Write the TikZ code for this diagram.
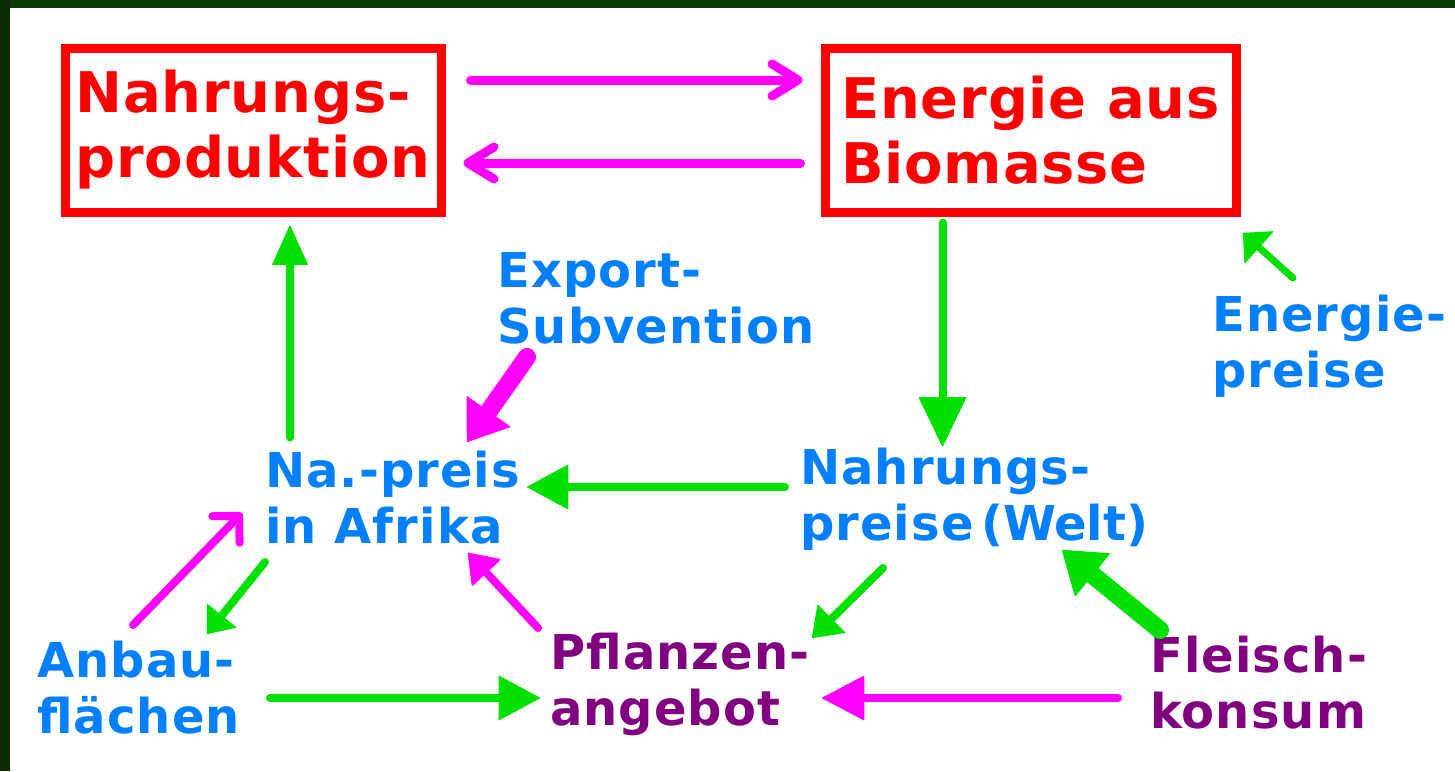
\documentclass[tikz,border=0pt]{standalone}
\usepackage{fontspec}
\setmainfont{DejaVu Sans}
\usetikzlibrary{arrows.meta,positioning,calc}

\definecolor{rahmen}{HTML}{0B3A02}
\definecolor{rahmenl}{HTML}{0D2A03}
\definecolor{blau}{HTML}{0080FF}
\definecolor{lila}{HTML}{800080}
\definecolor{gruen}{HTML}{00E000}
\definecolor{magen}{HTML}{FF00FF}

\newcommand\boxfont{\bfseries\fontsize{56}{65}\selectfont\addfontfeature{LetterSpace=1.5}}
\newcommand\lblfont{\bfseries\fontsize{48}{56}\selectfont\addfontfeature{LetterSpace=2.2}}

\tikzset{
  box/.style={draw=red, line width=9pt, text=red, align=left,
    minimum width=376pt, minimum height=164pt, font=\boxfont},
  lbl/.style={anchor=base west, align=left, inner sep=0pt, font=\lblfont},
  garrow/.style={gruen, line width=8pt, line cap=round,
    -{Triangle[length=42pt,width=45pt,line width=1pt,round]}},
  marrow/.style={magen, line width=9pt, line cap=round,
    -{Straight Barb[length=26pt,width=32pt,round]}},
}

\begin{document}
\begin{tikzpicture}[x=1pt,y=-1pt]
\useasboundingbox (0,0) rectangle (1455,771);
\fill[rahmen] (0,0) rectangle (1455,771);
\fill[rahmenl] (0,0) rectangle (10,771);
\fill[white] (10,8) rectangle (1455,771);

% Kästen
\node[box] (prod) at (253,130) {Nahrungs-\\produktion};
\node[box, minimum width=411pt] (bio) at (1030.5,130) {Energie aus\\Biomasse};

% Beschriftungen (Anker: Grundlinie der letzten Zeile)
\node[lbl, text=blau] (export) at (497,343) {Export-\\Subvention};
\node[lbl, text=blau] (epreise) at (1212,387) {Energie-\\preise};
\node[lbl, text=blau] (afrika) at (265,543) {Na.-preis\\in Afrika};
\node[lbl, text=blau] (welt) at (800,540) {Nahrungs-\\preise};
\node[lbl, text=blau, font=\bfseries\fontsize{48}{56}\selectfont] (weltx) at (981,540) {(Welt)};
\node[lbl, text=blau] (anbau) at (37,733) {Anbau-\\flächen};
\node[lbl, text=lila] (pflanz) at (550,725) {Pflanzen-\\angebot};
\node[lbl, text=lila] (fleisch) at (1150,728) {Fleisch-\\konsum};

% Pfeile
\draw[marrow] ($(prod.east)+(25,-50)$) -- ($(bio.west)+(-18,-50)$);
\draw[marrow] ($(bio.west)+(-20,33)$) -- ($(prod.east)+(18,33)$);
\draw[garrow, -{Triangle[length=50pt,width=48pt,line width=1pt,round]}]
  ($(bio.south)+(-88,6)$) -- ($(bio.south)+(-88,230)$);
\draw[garrow, -{Triangle[length=40pt,width=36pt,line width=1pt,round]}]
  ($(prod.south)+(37,221)$) -- ($(prod.south)+(37,9)$);
\draw[magen, line width=18pt, line cap=round,
  -{Triangle[length=38pt,width=54pt,line width=1pt,round]}]
  (527,357) coordinate (exp0) -- (467,442) coordinate (exp1);
\draw[garrow, line width=7pt, -{Triangle[length=22pt,width=44pt,line width=1pt,round]}]
  (1293,278) coordinate (ep0) -- (1243,233) coordinate (ep1);
\draw[garrow] (785,487) coordinate (w0) -- (527,487) coordinate (w1);
\draw[marrow, line width=8pt, -{Straight Barb[length=19pt,width=38pt,round]}]
  (133,625) coordinate (an0) -- (242,513) coordinate (an1);
\draw[garrow, -{Triangle[length=24pt,width=38pt,line width=1pt,round]}]
  (265,562) coordinate (af0) -- (207,634) coordinate (af1);
\draw[garrow] (270,698) coordinate (an2) -- (540,698) coordinate (pf0);
\draw[magen, line width=8pt, line cap=round,
  -{Triangle[length=28pt,width=40pt,line width=2pt,round]}]
  (538,628) coordinate (pf1) -- (468,553) coordinate (af2);
\draw[garrow, -{Triangle[length=28pt,width=40pt,line width=1pt,round]}]
  (883,568) coordinate (w2) -- (812,638) coordinate (pf2);
\draw[magen, line width=8pt, line cap=round,
  -{Triangle[length=43pt,width=45pt,line width=1pt,round]}]
  (1118,698) coordinate (fl0) -- (822,698) coordinate (pf3);
\draw[gruen, line width=18pt, line cap=round,
  -{Triangle[length=40pt,width=56pt,line width=1pt,round]}]
  (1160,630) coordinate (fl1) -- (1062,550) coordinate (w3);
\end{tikzpicture}
\end{document}
